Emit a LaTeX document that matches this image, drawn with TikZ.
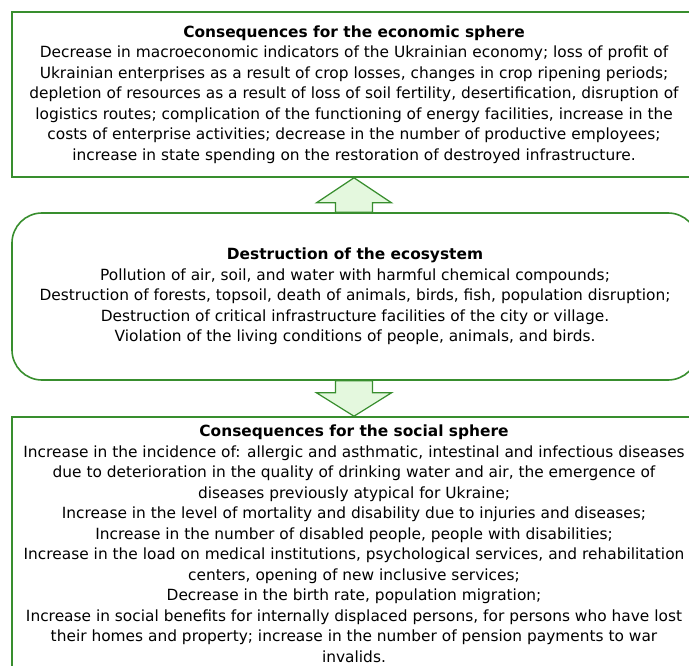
\documentclass[tikz,border=0pt]{standalone}
\usepackage{fontspec}
\setmainfont{DejaVu Sans}
\usetikzlibrary{calc}
\definecolor{boxgreen}{RGB}{56,142,46}
\definecolor{arrowfill}{RGB}{228,248,222}
\begin{document}
\begin{tikzpicture}[x=1pt,y=-1pt,
  box/.style={draw=boxgreen,line width=1.6pt,inner sep=0pt,minimum width=684pt,align=center},
  arrowshape/.style={draw=boxgreen,line width=1.2pt,fill=arrowfill,line join=miter},
  txtA/.style={font=\fontsize{15.4}{20.5}\selectfont}]
\useasboundingbox (0,0) rectangle (689,666);
\clip (0,0) rectangle (689,666);
\node[box,txtA,minimum height=165pt] (econ) at (354,94.5) {\textbf{Consequences for the economic sphere}\\
Decrease in macroeconomic indicators of the Ukrainian economy; loss of profit of\\
Ukrainian enterprises as a result of crop losses, changes in crop ripening periods;\\
depletion of resources as a result of loss of soil fertility, desertification, disruption of\\
logistics routes; complication of the functioning of energy facilities, increase in the\\
costs of enterprise activities; decrease in the number of productive employees;\\
increase in state spending on the restoration of destroyed infrastructure.};
\node[box,txtA,minimum width=686pt,minimum height=167pt,rounded corners=30pt] (eco) at (355,296.5) {\textbf{Destruction of the ecosystem}\\
Pollution of air, soil, and water with harmful chemical compounds;\\
Destruction of forests, topsoil, death of animals, birds, fish, population disruption;\\
Destruction of critical infrastructure facilities of the city or village.\\
Violation of the living conditions of people, animals, and birds.};
\node[box,txtA,minimum height=254pt] (soc) at (354,544) {\textbf{Consequences for the social sphere}\\
Increase in the incidence of: allergic and asthmatic, intestinal and infectious diseases\\
due to deterioration in the quality of drinking water and air, the emergence of\\
diseases previously atypical for Ukraine;\\
Increase in the level of mortality and disability due to injuries and diseases;\\
Increase in the number of disabled people, people with disabilities;\\
Increase in the load on medical institutions, psychological services, and rehabilitation\\
centers, opening of new inclusive services;\\
Decrease in the birth rate, population migration;\\
Increase in social benefits for internally displaced persons, for persons who have lost\\
their homes and property; increase in the number of pension payments to war\\
invalids.};
\draw[arrowshape] let \p1=(econ.south), \p2=(eco.north) in
  (\x1-18.5pt,\y2) -- (\x1-18.5pt,\y1-25pt) -- (\x1-37.5pt,\y1-25pt) -- (\x1,\y1)
  -- (\x1+37.5pt,\y1-25pt) -- (\x1+18.5pt,\y1-25pt) -- (\x1+18.5pt,\y2) -- cycle;
\draw[arrowshape] let \p1=(eco.south), \p2=(soc.north) in
  (\x2-18.5pt,\y1) -- (\x2-18.5pt,\y1-12pt) -- (\x2-37.5pt,\y1-12pt) -- (\x2,\y2)
  -- (\x2+37.5pt,\y1-12pt) -- (\x2+18.5pt,\y1-12pt) -- (\x2+18.5pt,\y1) -- cycle;
\end{tikzpicture}
\end{document}
